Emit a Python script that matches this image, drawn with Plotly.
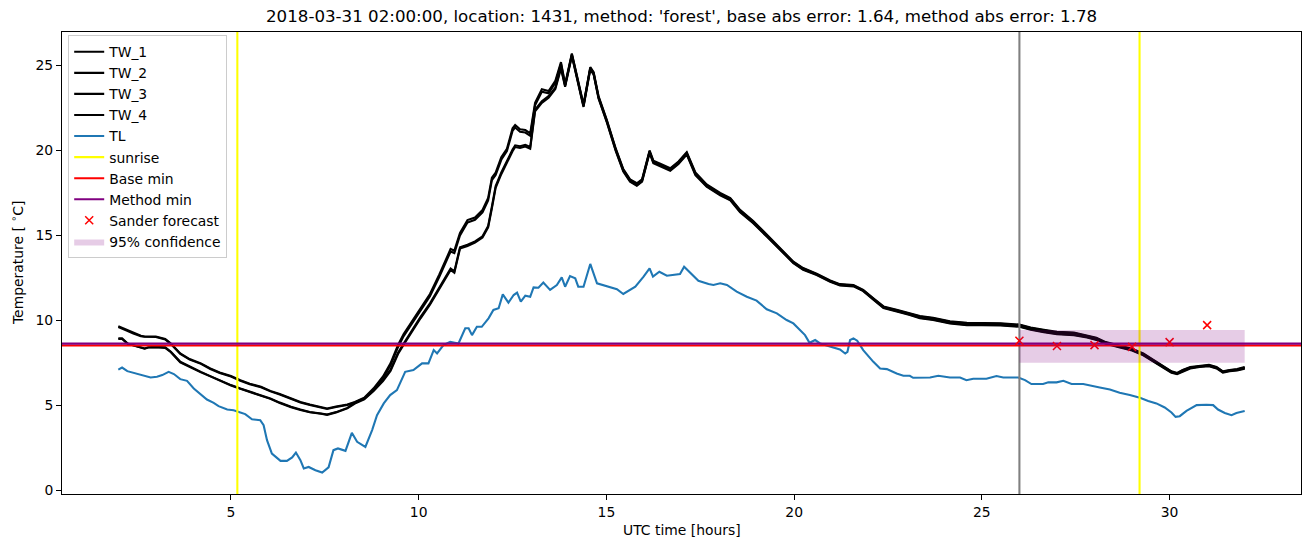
import plotly.graph_objects as go

# ---------------- data ----------------
time_tw = [2.0, 2.1, 2.25, 2.4, 2.6, 2.7, 2.8, 3.0, 3.25, 3.4, 3.65, 3.9, 4.2, 4.45, 4.7, 5.0, 5.25, 5.5, 5.8, 6.05,
           6.3, 6.6, 6.85, 7.1, 7.4, 7.56, 7.8, 8.1, 8.3, 8.55, 8.8, 9.05, 9.25, 9.45, 9.6, 9.8, 10.05, 10.3, 10.55, 10.85,
           10.95, 11.1, 11.3, 11.5, 11.7, 11.85, 11.95, 12.05, 12.2, 12.35, 12.5, 12.57, 12.7, 12.84, 12.97, 13.1, 13.28, 13.46, 13.64, 13.79,
           13.9, 14.08, 14.39, 14.57, 14.66, 14.79, 15.01, 15.25, 15.45, 15.63, 15.81, 15.95, 16.15, 16.25, 16.45, 16.7, 16.92, 17.14, 17.37, 17.67,
           18.03, 18.3, 18.56, 18.91, 19.27, 19.62, 19.98, 20.24, 20.6, 20.96, 21.22, 21.58, 21.84, 22.11, 22.38, 22.73, 23.08, 23.35, 23.7, 24.15,
           24.6, 25.0, 25.5, 26.0, 26.3, 26.65, 27.0, 27.45, 27.8, 28.05, 28.3, 28.65, 29.0, 29.3, 29.55, 29.85, 30.05, 30.2, 30.35, 30.55,
           30.8, 31.05, 31.25, 31.42, 31.6, 31.8, 32.0]

tw_1 = [9.65, 9.55, 9.40, 9.25, 9.09, 9.05, 9.05, 9.05, 8.90, 8.64, 8.05, 7.72, 7.47, 7.17, 6.93, 6.72, 6.48, 6.27, 6.09, 5.85,
        5.66, 5.40, 5.20, 5.05, 4.87, 4.81, 4.93, 5.05, 5.20, 5.45, 6.00, 6.70, 7.47, 8.55, 9.20, 9.85, 10.70, 11.55, 12.70, 14.20,
        14.10, 15.15, 15.90, 16.05, 16.50, 17.20, 18.40, 18.70, 19.60, 20.10, 21.30, 21.50, 21.25, 21.20, 21.00, 22.80, 23.60, 23.50, 24.10, 25.20,
        23.90, 25.70, 22.70, 24.90, 24.60, 23.20, 21.80, 20.10, 18.90, 18.30, 18.07, 18.30, 20.00, 19.40, 19.20, 18.95, 19.35, 19.90, 18.70, 18.00,
        17.50, 17.20, 16.50, 15.85, 15.05, 14.25, 13.45, 13.08, 12.75, 12.35, 12.13, 12.08, 11.80, 11.30, 10.82, 10.62, 10.42, 10.25, 10.15, 9.95,
        9.85, 9.85, 9.83, 9.75, 9.58, 9.45, 9.32, 9.28, 9.12, 8.98, 8.72, 8.52, 8.33, 8.05, 7.70, 7.30, 7.00, 6.90, 7.08, 7.25,
        7.32, 7.38, 7.25, 7.00, 7.08, 7.13, 7.25]

tw_2 = [9.60, 9.52, 9.37, 9.22, 9.06, 9.03, 9.02, 9.02, 8.87, 8.60, 8.02, 7.69, 7.44, 7.14, 6.90, 6.69, 6.45, 6.24, 6.06, 5.82,
        5.63, 5.37, 5.17, 5.02, 4.84, 4.78, 4.90, 5.02, 5.17, 5.40, 5.92, 6.60, 7.35, 8.42, 9.07, 9.72, 10.56, 11.42, 12.56, 14.05,
        13.96, 15.00, 15.76, 15.92, 16.36, 17.06, 18.25, 18.55, 19.45, 19.96, 21.15, 21.35, 21.10, 21.05, 20.86, 22.65, 23.45, 23.36, 23.98, 25.10,
        23.85, 25.66, 22.66, 24.86, 24.56, 23.16, 21.76, 20.06, 18.86, 18.26, 18.03, 18.26, 19.95, 19.35, 19.15, 18.90, 19.30, 19.85, 18.65, 17.96,
        17.46, 17.16, 16.46, 15.81, 15.01, 14.22, 13.42, 13.05, 12.72, 12.32, 12.10, 12.05, 11.77, 11.27, 10.79, 10.59, 10.39, 10.22, 10.12, 9.92,
        9.82, 9.82, 9.80, 9.72, 9.55, 9.42, 9.29, 9.25, 9.09, 8.95, 8.69, 8.49, 8.30, 8.02, 7.67, 7.27, 6.98, 6.88, 7.06, 7.23,
        7.30, 7.36, 7.23, 6.98, 7.06, 7.11, 7.23]

tw_3 = [8.95, 8.94, 8.64, 8.55, 8.44, 8.35, 8.42, 8.44, 8.41, 8.15, 7.56, 7.28, 6.97, 6.72, 6.46, 6.19, 5.99, 5.80, 5.60, 5.40,
        5.16, 4.91, 4.75, 4.61, 4.52, 4.46, 4.60, 4.85, 5.15, 5.40, 5.90, 6.50, 7.10, 8.10, 8.64, 9.35, 10.20, 11.00, 11.95, 13.05,
        12.88, 14.30, 14.45, 14.65, 14.95, 15.55, 16.70, 17.90, 18.70, 19.40, 20.05, 20.30, 20.25, 20.33, 20.20, 22.40, 22.90, 23.20, 23.70, 24.90,
        23.80, 25.60, 22.60, 24.80, 24.50, 23.10, 21.70, 20.00, 18.80, 18.20, 17.95, 18.20, 19.90, 19.30, 19.10, 18.85, 19.25, 19.80, 18.60, 17.90,
        17.40, 17.10, 16.40, 15.75, 14.97, 14.20, 13.40, 13.00, 12.70, 12.30, 12.08, 12.03, 11.75, 11.25, 10.75, 10.55, 10.35, 10.15, 10.05, 9.85,
        9.75, 9.75, 9.73, 9.65, 9.48, 9.33, 9.22, 9.15, 9.02, 8.88, 8.65, 8.45, 8.25, 7.97, 7.62, 7.22, 6.95, 6.86, 7.02, 7.20,
        7.28, 7.33, 7.20, 6.95, 7.03, 7.08, 7.18]

tw_4 = [8.90, 8.90, 8.62, 8.52, 8.42, 8.33, 8.40, 8.42, 8.38, 8.12, 7.53, 7.25, 6.94, 6.70, 6.44, 6.17, 5.97, 5.78, 5.58, 5.38,
        5.14, 4.89, 4.73, 4.59, 4.50, 4.44, 4.58, 4.82, 5.10, 5.35, 5.84, 6.42, 7.02, 8.02, 8.56, 9.27, 10.12, 10.92, 11.87, 12.97,
        12.80, 14.22, 14.37, 14.57, 14.87, 15.47, 16.60, 17.80, 18.60, 19.30, 19.95, 20.20, 20.15, 20.23, 20.10, 22.30, 22.80, 23.10, 23.62, 24.82,
        23.75, 25.55, 22.56, 24.76, 24.46, 23.06, 21.66, 19.96, 18.76, 18.16, 17.92, 18.16, 19.85, 19.25, 19.05, 18.80, 19.20, 19.75, 18.55, 17.86,
        17.36, 17.06, 16.36, 15.71, 14.93, 14.17, 13.37, 12.97, 12.67, 12.27, 12.05, 12.00, 11.72, 11.22, 10.72, 10.52, 10.32, 10.12, 10.02, 9.82,
        9.72, 9.72, 9.70, 9.62, 9.45, 9.30, 9.19, 9.12, 8.99, 8.85, 8.62, 8.42, 8.22, 7.94, 7.59, 7.19, 6.92, 6.83, 6.99, 7.17,
        7.25, 7.30, 7.17, 6.92, 7.00, 7.05, 7.15]

time_tl = [2.0, 2.1, 2.24, 2.41, 2.68, 2.86, 3.03, 3.17, 3.34, 3.48, 3.65, 3.83, 4.01, 4.19, 4.36, 4.54, 4.67, 4.90, 5.07, 5.25,
           5.38, 5.56, 5.78, 5.87, 5.96, 6.09, 6.32, 6.49, 6.63, 6.73, 6.85, 6.94, 7.07, 7.25, 7.43, 7.6, 7.73, 7.85, 8.05, 8.22,
           8.36, 8.58, 8.76, 8.89, 9.07, 9.24, 9.42, 9.64, 9.86, 10.09, 10.26, 10.40, 10.49, 10.66, 10.84, 11.06, 11.24, 11.33, 11.42, 11.55,
           11.68, 11.86, 11.99, 12.13, 12.24, 12.39, 12.53, 12.62, 12.72, 12.84, 12.97, 13.06, 13.19, 13.32, 13.50, 13.68, 13.81, 13.90, 14.03, 14.17,
           14.25, 14.39, 14.57, 14.75, 14.92, 15.10, 15.28, 15.45, 15.77, 15.99, 16.15, 16.24, 16.41, 16.61, 16.96, 17.07, 17.18, 17.45, 17.72, 17.85,
           18.03, 18.21, 18.47, 18.74, 19.00, 19.27, 19.54, 19.80, 19.98, 20.16, 20.29, 20.41, 20.56, 20.69, 20.96, 21.22, 21.36, 21.42, 21.49, 21.58,
           21.68, 21.84, 22.11, 22.29, 22.47, 22.73, 22.91, 23.08, 23.17, 23.35, 23.62, 23.84, 24.15, 24.42, 24.59, 24.77, 25.12, 25.39, 25.57, 25.97,
           26.15, 26.32, 26.63, 26.77, 26.99, 27.17, 27.39, 27.70, 27.92, 28.14, 28.41, 28.67, 28.94, 29.21, 29.43, 29.65, 29.87, 30.05, 30.16, 30.27,
           30.45, 30.72, 30.98, 31.16, 31.29, 31.47, 31.65, 31.78, 32.0]

tl = [7.10, 7.22, 7.01, 6.91, 6.72, 6.64, 6.68, 6.78, 6.97, 6.84, 6.54, 6.44, 5.99, 5.64, 5.34, 5.14, 4.95, 4.75, 4.71, 4.58,
      4.48, 4.18, 4.12, 3.83, 2.95, 2.16, 1.73, 1.73, 1.93, 2.22, 1.77, 1.28, 1.37, 1.18, 1.04, 1.35, 2.36, 2.46, 2.32, 3.38,
      2.85, 2.55, 3.54, 4.42, 5.11, 5.60, 5.89, 6.97, 7.07, 7.47, 7.47, 8.25, 8.05, 8.54, 8.74, 8.64, 9.53, 9.53, 9.13, 9.62,
      9.62, 10.12, 10.61, 10.71, 11.53, 11.04, 11.49, 11.63, 11.10, 11.45, 11.39, 11.94, 11.92, 12.22, 11.79, 12.08, 12.53, 11.98, 12.61, 12.47,
      11.98, 11.98, 13.32, 12.18, 12.08, 11.98, 11.83, 11.55, 11.98, 12.57, 13.06, 12.57, 12.86, 12.63, 12.73, 13.16, 12.92, 12.33, 12.14, 12.08,
      12.18, 12.08, 11.69, 11.39, 11.16, 10.65, 10.41, 10.02, 9.82, 9.43, 9.13, 8.68, 8.84, 8.64, 8.44, 8.29, 8.05, 8.15, 8.84, 8.94,
      8.80, 8.25, 7.56, 7.17, 7.13, 6.87, 6.74, 6.74, 6.62, 6.64, 6.64, 6.74, 6.64, 6.64, 6.48, 6.56, 6.56, 6.72, 6.64, 6.64,
      6.48, 6.25, 6.25, 6.35, 6.35, 6.44, 6.25, 6.25, 6.13, 6.05, 5.93, 5.74, 5.60, 5.44, 5.26, 5.11, 4.87, 4.58, 4.32, 4.36,
      4.67, 5.01, 5.03, 5.01, 4.75, 4.55, 4.42, 4.55, 4.66]

sunrise_times = [5.17, 29.2]
forecast_issue_time = 26.0
base_min = 8.52
method_min = 8.63
sander_times = [26, 27, 28, 29, 30, 31]
sander_values = [8.80, 8.49, 8.54, 8.44, 8.72, 9.72]
conf_times = [26.0, 32.0]
conf_low = 7.50
conf_high = 9.43

title_text = "2018-03-31 02:00:00, location: 1431, method: 'forest', base abs error: 1.64, method abs error: 1.78"
x_ticks = [5, 10, 15, 20, 25, 30]
y_ticks = [0, 5, 10, 15, 20, 25]

assert len(time_tw) == len(tw_1) == len(tw_2) == len(tw_3) == len(tw_4)
assert len(time_tl) == len(tl)

# ---------------- figure ----------------
X_RANGE = [0.5, 33.5]
Y_RANGE = [-0.22, 26.97]
LW = 2.08
FONT = "DejaVu Sans"

fig = go.Figure()
g = 0
def grp():
    global g
    g += 1
    return "g%d" % g

for name, vals in [("TW_1", tw_1), ("TW_2", tw_2), ("TW_3", tw_3), ("TW_4", tw_4)]:
    fig.add_trace(go.Scatter(x=time_tw, y=vals, mode="lines", name=name, legendgroup=grp(),
                             line=dict(color="black", width=LW)))

fig.add_trace(go.Scatter(x=time_tl, y=tl, mode="lines", name="TL", legendgroup=grp(),
                         line=dict(color="#1f77b4", width=LW)))

sg = grp()
for i, t in enumerate(sunrise_times):
    fig.add_trace(go.Scatter(x=[t, t], y=[Y_RANGE[0] - 5, Y_RANGE[1] + 5], mode="lines", name="sunrise",
                             legendgroup=sg, showlegend=(i == 0),
                             line=dict(color="#ffff00", width=LW)))

fig.add_trace(go.Scatter(x=[forecast_issue_time] * 2, y=[Y_RANGE[0] - 5, Y_RANGE[1] + 5], mode="lines",
                         showlegend=False, line=dict(color="#808080", width=LW)))

fig.add_trace(go.Scatter(x=[X_RANGE[0] - 5, X_RANGE[1] + 5], y=[base_min] * 2, mode="lines", name="Base min",
                         legendgroup=grp(), line=dict(color="#ff0000", width=LW)))
fig.add_trace(go.Scatter(x=[X_RANGE[0] - 5, X_RANGE[1] + 5], y=[method_min] * 2, mode="lines", name="Method min",
                         legendgroup=grp(), line=dict(color="#800080", width=LW)))

fig.add_trace(go.Scatter(x=sander_times, y=sander_values, mode="markers", name="Sander forecast",
                         legendgroup=grp(),
                         marker=dict(symbol="x-thin", size=8, color="#ff0000",
                                     line=dict(color="#ff0000", width=1.5))))

fig.add_trace(go.Scatter(x=[conf_times[0], conf_times[1], conf_times[1], conf_times[0], conf_times[0]],
                         y=[conf_low, conf_low, conf_high, conf_high, conf_low],
                         mode="lines", fill="toself", fillcolor="rgba(128,0,128,0.2)",
                         line=dict(width=0), name="95% confidence", legendgroup=grp()))

axis_common = dict(showline=True, mirror=True, linecolor="black", linewidth=1, ticks="outside",
                   ticklen=5, tickwidth=1, tickcolor="black", showgrid=False, zeroline=False,
                   tickfont=dict(family=FONT, size=13.9, color="black"))

fig.update_layout(
    width=1310, height=547,
    margin=dict(l=62, r=9, t=32, b=53),
    plot_bgcolor="white", paper_bgcolor="white",
    font=dict(family=FONT, size=13.9, color="black"),
    xaxis=dict(range=X_RANGE, tickvals=x_ticks, **axis_common),
    yaxis=dict(range=Y_RANGE, tickvals=y_ticks, **axis_common),
    legend=dict(x=0.005, y=0.993, xanchor="left", yanchor="top", bgcolor="rgba(255,255,255,0.8)",
                bordercolor="#cccccc", borderwidth=1, font=dict(family=FONT, size=13.9, color="black"),
                tracegroupgap=0, itemwidth=30),
    annotations=[
        dict(text=title_text, x=0.5, y=1, xref="paper", yref="paper", xanchor="center", yanchor="middle",
             yshift=16, showarrow=False, font=dict(family=FONT, size=16.67, color="black")),
        dict(text="UTC time [hours]", x=0.5, y=0, xref="paper", yref="paper", xanchor="center",
             yanchor="middle", yshift=-36, showarrow=False, font=dict(family=FONT, size=13.9, color="black")),
        dict(text="Temperature [ <sup>∘</sup>C]", x=0, y=0.5, xref="paper", yref="paper", xanchor="center",
             yanchor="middle", xshift=-45, textangle=-90, showarrow=False,
             font=dict(family=FONT, size=13.9, color="black")),
    ],
)

fig.write_html("out.html")
